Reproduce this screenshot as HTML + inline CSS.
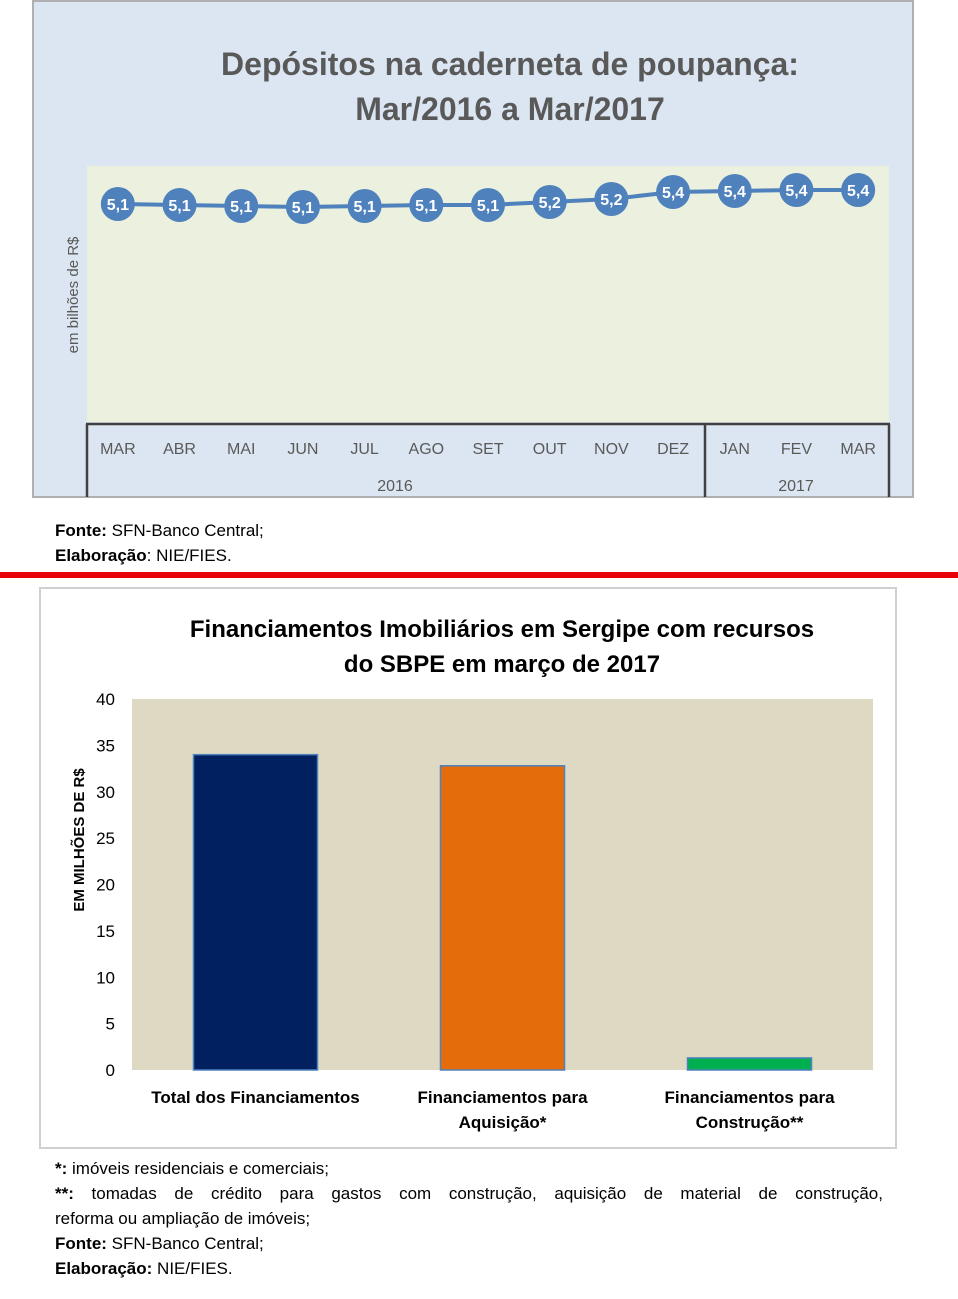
<!DOCTYPE html>
<html><head><meta charset="utf-8">
<style>
body{margin:0;width:958px;height:1299px;background:#fff;font-family:"Liberation Sans",sans-serif;position:relative;overflow:hidden}
.t{position:absolute;font-size:17px;color:#000;line-height:25px}
.j{display:block;text-align:justify;text-align-last:justify}
</style></head><body>
<svg width="958" height="500" style="position:absolute;left:0;top:0">
<rect x="33" y="1" width="880" height="496" fill="#dce6f2" stroke="#b0b0b0" stroke-width="2"/>
<rect x="87" y="166" width="802" height="256" fill="#ebf1de"/>
<text x="510" y="75" text-anchor="middle" font-size="32" font-weight="bold" fill="#595959">Depósitos na caderneta de poupança:</text>
<text x="510" y="120" text-anchor="middle" font-size="32" font-weight="bold" fill="#595959">Mar/2016 a Mar/2017</text>
<text transform="translate(78,295) rotate(-90)" text-anchor="middle" font-size="15" fill="#595959">em bilhões de R$</text>
<g stroke="#404040" stroke-width="2.5" fill="none">
<line x1="86" y1="424" x2="890" y2="424"/>
<line x1="87" y1="424" x2="87" y2="497"/>
<line x1="705" y1="424" x2="705" y2="497"/>
<line x1="889" y1="424" x2="889" y2="497"/>
</g>
<g id="xl" font-size="16" fill="#595959" text-anchor="middle"></g>
<text x="395" y="491" text-anchor="middle" font-size="16" fill="#595959">2016</text>
<text x="796" y="491" text-anchor="middle" font-size="16" fill="#595959">2017</text>
<g id="ln"></g>
</svg>
<div class="t" style="left:55px;top:518px"><b>Fonte:</b> SFN-Banco Central;<br><b>Elaboração</b>: NIE/FIES.</div>
<div style="position:absolute;left:0;top:572px;width:958px;height:6px;background:#e8000b"></div>
<svg width="958" height="570" style="position:absolute;left:0;top:580px">
<rect x="40" y="8" width="856" height="560" fill="#fff" stroke="#d0d0d0" stroke-width="2"/>
<rect x="132" y="119" width="741" height="371" fill="#ddd9c3"/>
<text x="502" y="57" text-anchor="middle" font-size="24" font-weight="bold" fill="#000">Financiamentos  Imobiliários  em Sergipe com recursos</text>
<text x="502" y="92" text-anchor="middle" font-size="24" font-weight="bold" fill="#000">do SBPE em março de 2017</text>
<text transform="translate(84,260) rotate(-90)" text-anchor="middle" font-size="15" font-weight="bold">EM MILHÕES DE R$</text>
<g id="yt" font-size="17" text-anchor="end"></g>
<g id="bars"></g>
<g id="bl" font-size="17" font-weight="bold" text-anchor="middle"></g>
</svg>
<div class="t" style="left:55px;top:1156px;width:828px"><b>*:</b> imóveis residenciais e comerciais;<br><span class="j"><b>**:</b> tomadas de crédito para gastos com construção, aquisição de material de construção,</span>reforma ou ampliação de imóveis;<br><b>Fonte:</b> SFN-Banco Central;<br><b>Elaboração:</b> NIE/FIES.</div>
<script>
const months=["MAR","ABR","MAI","JUN","JUL","AGO","SET","OUT","NOV","DEZ","JAN","FEV","MAR"];
const deposits=[5.12,5.10,5.08,5.06,5.08,5.10,5.10,5.16,5.22,5.36,5.38,5.40,5.40];
const barCats=[["Total dos Financiamentos"],["Financiamentos para","Aquisição*"],["Financiamentos para","Construção**"]];
const barVals=[34.0,32.8,1.3];
const barColors=["#002060","#e46c0a","#00b050"];
const yTicks=[0,5,10,15,20,25,30,35,40];
const NS="http://www.w3.org/2000/svg";
function mk(t,a,p){const e=document.createElementNS(NS,t);for(const k in a)e.setAttribute(k,a[k]);p.appendChild(e);return e;}
const lx=i=>87+802/13*(i+0.5), ly=v=>205-(v-5.1)*50;
const xl=document.getElementById('xl'),ln=document.getElementById('ln');
months.forEach((m,i)=>{const t=mk('text',{x:lx(i),y:454},xl);t.textContent=m;

});
const pl=mk('polyline',{points:deposits.map((v,i)=>lx(i)+','+ly(v)).join(' '),fill:'none',stroke:'#4f81bd','stroke-width':4},ln);


deposits.forEach((v,i)=>{const c=mk('circle',{cx:lx(i),cy:ly(v),r:17,fill:'#4f81bd'},ln);


const t=mk('text',{x:lx(i),y:ly(v)+6,'text-anchor':'middle','font-size':16,'font-weight':'bold',fill:'#fff'},ln);t.textContent=v.toFixed(1).replace('.',',');

});
const by=v=>490-v*371/40, bx=i=>132+741/3*(i+0.5);
const yt=document.getElementById('yt'),bars=document.getElementById('bars'),bl=document.getElementById('bl');
yTicks.forEach(v=>{const t=mk('text',{x:115,y:by(v)+6},yt);t.textContent=v;

});
barVals.forEach((v,i)=>{const r=mk('rect',{x:bx(i)-62,y:by(v),width:124,height:490-by(v),fill:barColors[i],stroke:'#4f81bd','stroke-width':1.5},bars);


barCats[i].forEach((s,j)=>{const t=mk('text',{x:bx(i),y:523+j*25},bl);t.textContent=s;

});});
</script>
</body></html>
